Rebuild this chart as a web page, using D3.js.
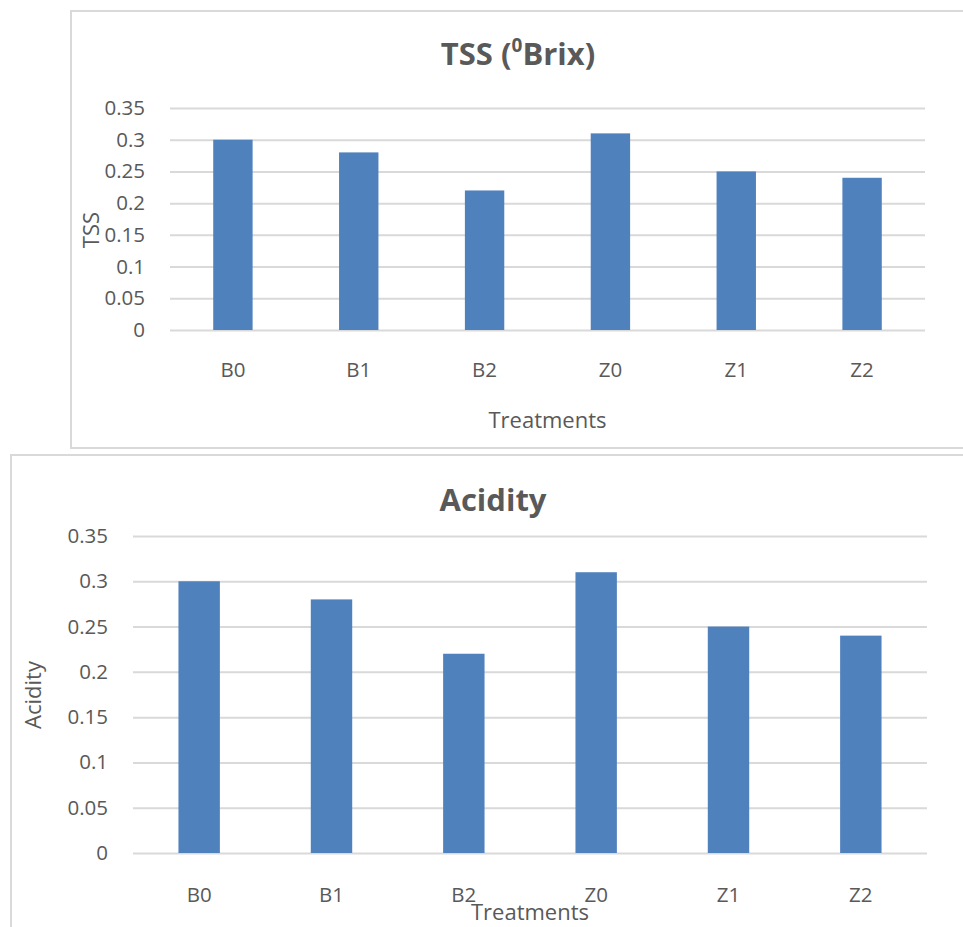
<!DOCTYPE html>
<html>
<head>
<meta charset="utf-8">
<script src="https://cdn.jsdelivr.net/npm/d3@7"></script>
<style>
  body { margin: 0; background: #fff; }
  svg { display: block; font-family: "Open Sans", sans-serif; }
</style>
</head>
<body>
<svg id="chart" width="963" height="927"></svg>
<script>
// treatments on the x axis, same for both panels
var treatments = ["B0", "B1", "B2", "Z0", "Z1", "Z2"];
var tssValues = [0.30, 0.28, 0.22, 0.31, 0.25, 0.24];
var acidityValues = [0.30, 0.28, 0.22, 0.31, 0.25, 0.24];
var yTicks = [0, 0.05, 0.1, 0.15, 0.2, 0.25, 0.3, 0.35];
var yTickLabels = ["0", "0.05", "0.1", "0.15", "0.2", "0.25", "0.3", "0.35"];

var textColor = "#595959";
var gridColor = "#d9d9d9";
var barColor = "#4f81bd";

var svg = d3.select("#chart");

/**
 * Draws one Excel-style column chart panel.
 */
function drawPanel(opts) {
  var g = svg.append("g");

  // chart frame (runs off the right edge like the original)
  g.append("rect")
    .attr("x", opts.frame[0])
    .attr("y", opts.frame[1])
    .attr("width", opts.frame[2])
    .attr("height", opts.frame[3])
    .attr("fill", "#fff")
    .attr("stroke", gridColor)
    .attr("stroke-width", 2);

  var x = d3.scaleBand()
    .domain(treatments)
    .range([opts.left, opts.right])
    .paddingInner(0.687)
    .paddingOuter(0.3435);

  var y = d3.scaleLinear()
    .domain([0, 0.35])
    .range([opts.bottom, opts.top]);

  // y axis with gridlines
  var yAxis = g.append("g")
    .attr("transform", `translate(${opts.left},0)`)
    .call(d3.axisLeft(y)
      .tickValues(yTicks)
      .tickSize(-(opts.right - opts.left))
      .tickPadding(25)
      .tickFormat((d, i) => yTickLabels[i]));
  yAxis.select(".domain").remove();
  yAxis.selectAll("line").attr("stroke", gridColor).attr("stroke-width", 2);
  yAxis.selectAll("text")
    .attr("fill", textColor)
    .attr("font-size", 20.5)
    .attr("font-family", "Open Sans, sans-serif");

  // x axis labels
  var xAxis = g.append("g")
    .attr("transform", `translate(0,${opts.bottom})`)
    .call(d3.axisBottom(x).tickSize(0).tickPadding(0));
  xAxis.select(".domain").remove();
  xAxis.selectAll("text")
    .attr("fill", textColor)
    .attr("font-size", 20.5)
    .attr("font-family", "Open Sans, sans-serif")
    .attr("y", opts.xLabelOffset)
    .attr("dy", 0);

  // bars
  g.append("g")
    .selectAll("rect")
    .data(opts.values)
    .join("rect")
    .attr("x", (d, i) => x(treatments[i]))
    .attr("y", d => y(d))
    .attr("width", x.bandwidth())
    .attr("height", d => y(0) - y(d))
    .attr("fill", barColor);

  // title
  var title = g.append("text")
    .attr("x", opts.titlePos[0])
    .attr("y", opts.titlePos[1])
    .attr("text-anchor", "middle")
    .attr("font-size", 31)
    .attr("font-weight", "bold")
    .attr("fill", textColor);
  opts.title.forEach(part => {
    var t = title.append("tspan").text(part.text);
    if (part.sup) t.attr("font-size", 19).attr("baseline-shift", "super");
  });

  // x axis title
  g.append("text")
    .attr("x", (opts.left + opts.right) / 2)
    .attr("y", opts.xTitleY)
    .attr("text-anchor", "middle")
    .attr("font-size", 22)
    .attr("fill", textColor)
    .text("Treatments");

  // y axis title
  g.append("text")
    .attr("transform", `translate(${opts.yTitlePos[0]},${opts.yTitlePos[1]}) rotate(-90)`)
    .attr("text-anchor", "middle")
    .attr("font-size", 22)
    .attr("fill", textColor)
    .text(opts.yTitle);
}

drawPanel({
  frame: [71, 11, 1000, 437],
  left: 170, right: 925, top: 108, bottom: 330,
  values: tssValues,
  xLabelOffset: 47,
  title: [{text: "TSS ("}, {text: "0", sup: true}, {text: "Brix)"}],
  titlePos: [518, 65],
  xTitleY: 428,
  yTitle: "TSS",
  yTitlePos: [99, 230]
});

drawPanel({
  frame: [11, 455, 1000, 500],
  left: 133, right: 927, top: 536, bottom: 853,
  values: acidityValues,
  xLabelOffset: 49,
  title: [{text: "Acidity"}],
  titlePos: [493, 511],
  xTitleY: 920,
  yTitle: "Acidity",
  yTitlePos: [41, 695]
});
</script>
</body>
</html>
